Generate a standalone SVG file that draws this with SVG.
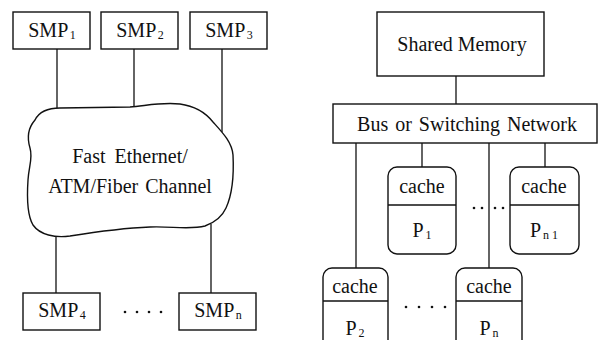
<svg xmlns="http://www.w3.org/2000/svg" width="600" height="340" viewBox="0 0 600 340">
  <style>
    .box { fill: #fff; stroke: #111; stroke-width: 1.4; }
    .wire { fill: none; stroke: #111; stroke-width: 1.3; }
    .lbl { font-family: "Liberation Serif", "Times New Roman", serif; font-size: 20px; fill: #111; text-anchor: middle; }
    .sub { font-size: 12px; }
    .dot { fill: #111; }
  </style>
  <rect width="600" height="340" fill="#fff"/>

  <!-- connectors -->
  <g id="connectors">
    <!-- cluster side -->
    <line class="wire" x1="57" y1="49" x2="57" y2="108"/>
    <line class="wire" x1="134" y1="49" x2="134" y2="107"/>
    <line class="wire" x1="222" y1="49" x2="222" y2="132"/>
    <line class="wire" x1="56" y1="236" x2="56" y2="293"/>
    <line class="wire" x1="211" y1="224" x2="211" y2="293"/>
    <!-- shared-memory side -->
    <line class="wire" x1="456" y1="76" x2="456" y2="104"/>
    <line class="wire" x1="356" y1="143" x2="356" y2="268"/>
    <line class="wire" x1="422" y1="143" x2="422" y2="167"/>
    <line class="wire" x1="489" y1="143" x2="489" y2="268"/>
    <line class="wire" x1="545" y1="143" x2="545" y2="167"/>
  </g>

  <!-- SMP nodes -->
  <g id="smp1"><rect class="box" x="13" y="12" width="77" height="37"/>
    <text class="lbl" x="52" y="37">SMP<tspan class="sub" dx="1.5" dy="2">1</tspan></text></g>
  <g id="smp2"><rect class="box" x="101" y="12" width="77" height="37"/>
    <text class="lbl" x="140" y="37">SMP<tspan class="sub" dx="1.5" dy="2">2</tspan></text></g>
  <g id="smp3"><rect class="box" x="190" y="12" width="77" height="37"/>
    <text class="lbl" x="229" y="37">SMP<tspan class="sub" dx="1.5" dy="2">3</tspan></text></g>
  <g id="smp4"><rect class="box" x="23" y="293" width="77" height="37"/>
    <text class="lbl" x="62" y="317">SMP<tspan class="sub" dx="1.5" dy="2">4</tspan></text></g>
  <g id="smpn"><rect class="box" x="179" y="293" width="77" height="37"/>
    <text class="lbl" x="218" y="317">SMP<tspan class="sub" dx="1.5" dy="2">n</tspan></text></g>
  <g id="smp-dots">
    <circle class="dot" cx="125" cy="312" r="1.3"/><circle class="dot" cx="137" cy="312" r="1.3"/>
    <circle class="dot" cx="149" cy="312" r="1.3"/><circle class="dot" cx="161" cy="312" r="1.3"/>
  </g>

  <!-- interconnect cloud -->
  <g id="network-cloud">
    <path class="box" d="M35,120 C40,110 50,108 60,108 L130,107 C145,106 160,102 180,104 C195,106 205,112 213,122 C222,132 232,142 233,155 C234,175 232,195 226,208 C222,217 216,222 205,226 C190,230 170,226 150,227 C125,228 95,232 70,236 C55,238 40,235 33,225 C27,215 27,195 28,180 C29,165 33,158 30,148 C27,138 28,128 35,120 Z"/>
    <text class="lbl" x="130" y="163" word-spacing="4">Fast Ethernet/</text>
    <text class="lbl" x="130" y="193" word-spacing="2">ATM/Fiber Channel</text>
  </g>

  <!-- shared memory and bus -->
  <g id="shared-memory"><rect class="box" x="377" y="12" width="167" height="64"/>
    <text class="lbl" x="462" y="51">Shared Memory</text></g>
  <g id="bus"><rect class="box" x="333" y="104" width="264" height="39"/>
    <text class="lbl" x="467" y="131" word-spacing="2">Bus or Switching Network</text></g>

  <!-- processors with caches -->
  <g id="p1"><rect class="box" x="388" y="167" width="68" height="87" rx="9"/>
    <line class="wire" x1="388" y1="205" x2="456" y2="205"/>
    <text class="lbl" x="422" y="193">cache</text>
    <text class="lbl" x="422" y="237">P<tspan class="sub" dx="2" dy="2">1</tspan></text></g>
  <g id="pn-1"><rect class="box" x="510" y="167" width="69" height="87" rx="9"/>
    <line class="wire" x1="510" y1="205" x2="579" y2="205"/>
    <text class="lbl" x="544" y="237">P<tspan class="sub" dx="2" dy="2">n 1</tspan></text>
    <text class="lbl" x="544" y="193">cache</text></g>
  <g id="p2"><rect class="box" x="323" y="268" width="65" height="90" rx="9"/>
    <line class="wire" x1="323" y1="301" x2="388" y2="301"/>
    <text class="lbl" x="355" y="293">cache</text>
    <text class="lbl" x="355" y="335">P<tspan class="sub" dx="2" dy="2">2</tspan></text></g>
  <g id="pn"><rect class="box" x="456" y="268" width="66" height="90" rx="9"/>
    <line class="wire" x1="456" y1="301" x2="522" y2="301"/>
    <text class="lbl" x="489" y="293">cache</text>
    <text class="lbl" x="489" y="335">P<tspan class="sub" dx="2" dy="2">n</tspan></text></g>
  <g id="proc-dots">
    <circle class="dot" cx="474" cy="208" r="1.3"/><circle class="dot" cx="482" cy="208" r="1.3"/>
    <circle class="dot" cx="495" cy="208" r="1.3"/><circle class="dot" cx="503" cy="208" r="1.3"/>
    <circle class="dot" cx="406" cy="307" r="1.3"/><circle class="dot" cx="419" cy="307" r="1.3"/>
    <circle class="dot" cx="432" cy="307" r="1.3"/><circle class="dot" cx="445" cy="307" r="1.3"/>
  </g>
</svg>
